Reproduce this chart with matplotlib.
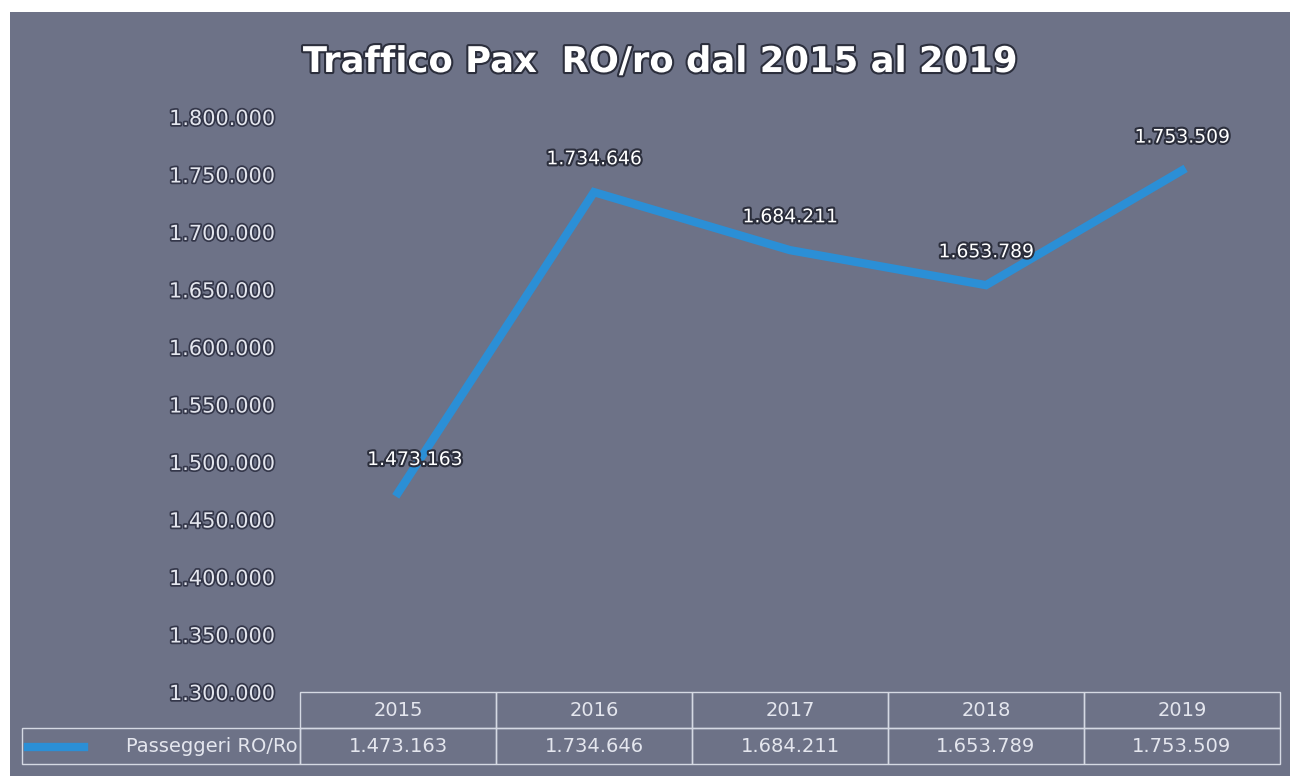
import matplotlib.pyplot as plt
import matplotlib.patheffects as pe
from matplotlib.patches import Rectangle
from matplotlib.lines import Line2D
from matplotlib.table import Table

# dati
anni = ['2015', '2016', '2017', '2018', '2019']
passeggeri = [1473163, 1734646, 1684211, 1653789, 1753509]
serie = 'Passeggeri RO/Ro'
titolo = 'Traffico Pax  RO/ro dal 2015 al 2019'
y_min, y_max, y_step = 1300000, 1800000, 50000


def fmt(v):
    return f"{v:,}".replace(',', '.')


W, H = 1296, 780
sfondo = '#6d7287'
blu = '#2b8fd6'
chiaro = '#e4e6ee'
ombra = [pe.withStroke(linewidth=3, foreground='#2b2e3c')]

fig = plt.figure(figsize=(W / 100, H / 100), dpi=100, facecolor='white')
# riquadro del grafico
fig.patches.append(Rectangle((10 / W, 4 / H), 1280 / W, 764 / H, transform=fig.transFigure,
                             facecolor=sfondo, edgecolor='none', zorder=-5))

ax = fig.add_axes([300 / W, (H - 692) / H, 980 / W, 575 / H])
ax.set_zorder(2)
ax.set_facecolor('none')
x = list(range(len(anni)))
ax.plot(x, passeggeri, color=blu, linewidth=6, solid_joinstyle='miter', zorder=3)
ax.set_xlim(-0.5, len(anni) - 0.5)
ax.set_ylim(y_min, y_max)
ax.set_yticks(range(y_min, y_max + 1, y_step))
ax.set_yticklabels([fmt(v) for v in range(y_min, y_max + 1, y_step)])
ax.tick_params(axis='y', length=0, pad=18, labelsize=15, labelcolor=chiaro)
for t in ax.get_yticklabels():
    t.set_path_effects([pe.withStroke(linewidth=2.5, foreground='#34374a')])
ax.set_xticks([])
for s in ax.spines.values():
    s.set_visible(False)

# etichette dati
for i, v in enumerate(passeggeri):
    dx = 12 if i == 0 else 0
    ax.annotate(fmt(v), (i, v), xytext=(dx, 24), textcoords='offset points',
                ha='center', va='center', fontsize=13.5, color='white',
                path_effects=ombra, zorder=4)

fig.text(660 / W, 1 - 62 / H, titolo, ha='center', va='center', fontsize=25.5,
         fontweight='bold', color='white', path_effects=ombra, zorder=5)

# tabella dati (larghezze in frazioni dell'asse)
cw, rh = 1 / len(anni), 36 / 575
lw = 278 / 980
tb = Table(ax, bbox=[0, -2 * rh, 1, 2 * rh])
bordo = '#d5d9e3'
for j, a in enumerate(anni):
    c = tb.add_cell(0, j, width=cw, height=rh, text=a, loc='center',
                    facecolor='none', edgecolor=bordo)
    c.get_text().set_color(chiaro)
    c = tb.add_cell(1, j, width=cw, height=rh, text=fmt(passeggeri[j]), loc='center',
                    facecolor='none', edgecolor=bordo)
    c.get_text().set_color(chiaro)
c = tb.add_cell(1, -1, width=lw, height=rh, text=serie, loc='right',
                facecolor='none', edgecolor=bordo)
c.get_text().set_color(chiaro)
c.PAD = 0.01
tb.auto_set_font_size(False)
tb.set_fontsize(14)
ax.add_table(tb)

ax.add_line(Line2D([(28 - 300) / 980, (84 - 300) / 980], [-55 / 575, -55 / 575],
                   transform=ax.transAxes, color=blu, linewidth=6, clip_on=False))

fig.savefig('out.png', dpi=100, facecolor='white')
